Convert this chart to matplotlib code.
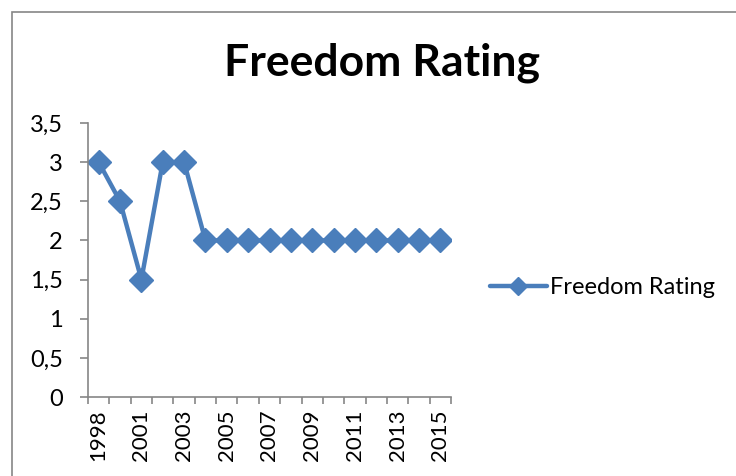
import matplotlib.pyplot as plt
from matplotlib.patches import Rectangle

plt.rcParams['font.family'] = ['Lato', 'DejaVu Sans']

years = ['1998', '1999', '2001', '2002', '2003', '2004', '2005', '2006', '2007',
         '2008', '2009', '2010', '2011', '2012', '2013', '2014', '2015']
rating = [3, 2.5, 1.5, 3, 3, 2, 2, 2, 2, 2, 2, 2, 2, 2, 2, 2, 2]

blue = '#4a7ebb'
gray = '#868686'

fig = plt.figure(figsize=(7.36, 4.76), dpi=100)
ax = fig.add_axes([88/736, 1 - 397/476, (451-88)/736, (397-123)/476])

x = list(range(len(years)))
ax.plot(x, rating, color=blue, lw=3.2, marker='D', markersize=12,
        label='Freedom Rating', solid_joinstyle='round', solid_capstyle='round')

ax.set_xlim(-0.5, len(years) - 0.5)
ax.set_ylim(0, 3.5)
yt = [0, 0.5, 1, 1.5, 2, 2.5, 3, 3.5]
ax.set_yticks(yt)
ax.set_yticklabels([('%g' % v).replace('.', ',') for v in yt], fontsize=17)

ax.set_xticks([i - 0.5 for i in range(len(years) + 1)])
ax.set_xticklabels([])
ax.set_xticks(x[::2], minor=True)
ax.set_xticklabels(years[::2], minor=True, rotation=90, fontsize=16)
ax.tick_params(axis='x', which='minor', length=0, pad=9)
ax.tick_params(axis='x', which='major', length=5, color=gray, width=1.2)
ax.tick_params(axis='y', length=6, color=gray, width=1.2, pad=12)

for s in ['top', 'right']:
    ax.spines[s].set_visible(False)
for s in ['left', 'bottom']:
    ax.spines[s].set_color(gray)
    ax.spines[s].set_linewidth(1.2)

fig.text(382/736, 1 - 63/476, 'Freedom Rating', fontsize=32, fontweight='bold',
         ha='center', va='center')

ax.legend(loc='center left', bbox_to_anchor=(490/736, 1 - 288/476),
          bbox_transform=fig.transFigure, frameon=False, fontsize=17,
          borderpad=0, borderaxespad=0,
          handlelength=2.4, handletextpad=0.15, markerscale=0.8)

fig.patches.append(Rectangle((12/736, -0.1), 1.1, 1 - 12/476 + 0.1,
                             transform=fig.transFigure, fill=False,
                             edgecolor=gray, lw=1.2))

fig.savefig('out.png', dpi=100)
